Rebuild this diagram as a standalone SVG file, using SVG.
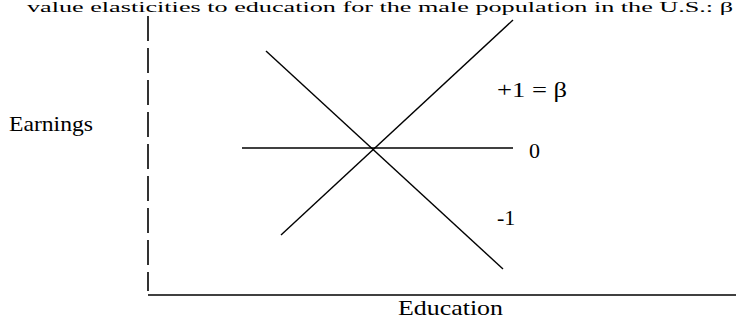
<svg xmlns="http://www.w3.org/2000/svg" width="747" height="324" viewBox="0 0 747 324">
<style>
text{font-family:"Liberation Serif","Times New Roman",serif;fill:#000}
.ax{stroke:#000;stroke-width:1.6;fill:none}
.ln{stroke:#000;stroke-width:1.4;fill:none}
</style>
<rect width="747" height="324" fill="#fff"/>
<text x="27" y="12" font-size="15" textLength="706" lengthAdjust="spacingAndGlyphs">value elasticities to education for the male population in the U.S.: β</text>
<g id="axes">
<line class="ax" x1="148" y1="16" x2="148" y2="291" stroke-dasharray="25,7"/>
<line class="ax" x1="148" y1="295" x2="736" y2="295"/>
</g>
<g id="label-earnings"><text x="9" y="131" font-size="22" textLength="84" lengthAdjust="spacingAndGlyphs">Earnings</text></g>
<g id="label-education"><text x="398" y="315" font-size="22" textLength="105" lengthAdjust="spacingAndGlyphs">Education</text></g>
<g id="connectors">
<line class="ln" x1="242" y1="148" x2="513" y2="148"/>
<line class="ln" x1="266" y1="51" x2="503" y2="269"/>
<line class="ln" x1="281" y1="235" x2="513" y2="20"/>
</g>
<g id="label-plus1"><text x="497" y="97" font-size="22" textLength="70" lengthAdjust="spacingAndGlyphs">+1 = β</text></g>
<g id="label-0"><text x="529" y="158" font-size="22">0</text></g>
<g id="label-minus1"><text x="497" y="225" font-size="22">-1</text></g>
</svg>
